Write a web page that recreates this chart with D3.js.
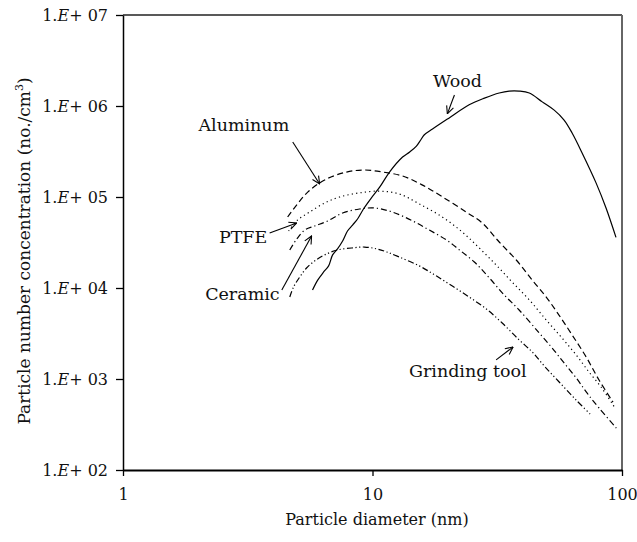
<!DOCTYPE html>
<html>
<head>
<meta charset="utf-8">
<script src="https://cdnjs.cloudflare.com/ajax/libs/d3/7.8.5/d3.min.js"></script>
<style>
  body { margin: 0; background: #fff; }
  text { font-family: "DejaVu Serif", "Liberation Serif", serif; fill: #111; }
</style>
</head>
<body>
<div id="chart"></div>
<script>
// particle diameter (nm) and number concentration (no./cm3)
let woodD = [5.75, 6.03, 6.37, 6.67, 6.92, 7.24, 7.59, 7.94, 8.32, 8.71, 9.2, 9.82, 10.7, 11.7, 13.2, 14.1, 15.0, 15.6, 16.1, 17.4, 20.3, 24.4, 28.1, 32.2, 35.3, 38.7, 42.5, 47.9, 53.5, 58.6, 63.1, 69.2, 78.7, 86.3, 94.6];
let woodC = [9.5e3, 1.22e4, 1.5e4, 1.75e4, 2.31e4, 2.69e4, 3.28e4, 4.23e4, 4.92e4, 5.73e4, 7.38e4, 9.5e4, 1.29e5, 1.88e5, 2.75e5, 3.13e5, 3.63e5, 4.23e5, 4.8e5, 5.58e5, 7.4e5, 1.03e6, 1.22e6, 1.39e6, 1.46e6, 1.46e6, 1.39e6, 1.11e6, 9.0e5, 7.0e5, 5.05e5, 3.05e5, 1.43e5, 7.57e4, 3.6e4];

let aluD = [4.57, 4.97, 5.50, 6.43, 7.87, 9.29, 11.0, 13.2, 15.8, 19.1, 23.8, 27.5, 32.2, 37.7, 43.7, 49.7, 56.0, 63.1, 71.8, 80.9, 92.0];
let aluC = [6.03e4, 8.2e4, 1.13e5, 1.54e5, 1.88e5, 1.98e5, 1.88e5, 1.70e5, 1.36e5, 1.0e5, 6.8e4, 5.2e4, 3.2e4, 2.03e4, 1.22e4, 7.96e3, 5.0e3, 3.05e3, 1.75e3, 975, 558];

let ptfeD = [4.61, 5.01, 5.60, 6.43, 7.38, 8.87, 10.7, 12.8, 15.4, 19.1, 22.9, 26.8, 31.3, 36.3, 42.5, 49.7, 57.5, 65.5, 73.8, 82.4, 93.8];
let ptfeC = [4.23e4, 5.58e4, 6.84e4, 8.59e4, 1.0e5, 1.11e5, 1.16e5, 1.08e5, 8.4e4, 6.0e4, 4.12e4, 2.75e4, 1.79e4, 1.16e4, 7.4e3, 4.45e3, 2.82e3, 1.84e3, 1.19e3, 817, 480];

let ceramicD = [4.66, 4.97, 5.35, 5.86, 6.61, 7.59, 8.87, 10.2, 12.0, 14.5, 16.9, 19.8, 22.3, 25.6, 29.4, 33.7, 38.7, 46.6, 52.5, 58.6, 65.5, 72.4, 80.9, 95.5];
let ceramicC = [2.62e4, 3.45e4, 4.33e4, 4.8e4, 5.45e4, 6.67e4, 7.38e4, 7.57e4, 6.84e4, 5.45e4, 4.33e4, 3.37e4, 2.62e4, 1.93e4, 1.29e4, 8.4e3, 5.73e3, 3.2e3, 2.19e3, 1.5e3, 1.03e3, 702, 480, 283];

let grindD = [4.66, 4.83, 5.11, 5.44, 5.86, 6.43, 7.24, 8.24, 9.29, 10.4, 11.4, 12.8, 15.4, 18.0, 20.9, 24.4, 28.6, 33.1, 38.7, 43.7, 48.8, 56.0, 65.5, 74.5];
let grindC = [7.96e3, 1.03e4, 1.32e4, 1.66e4, 1.98e4, 2.31e4, 2.62e4, 2.75e4, 2.82e4, 2.69e4, 2.49e4, 2.19e4, 1.75e4, 1.36e4, 1.05e4, 7.96e3, 5.88e3, 4.12e3, 2.69e3, 1.98e3, 1.39e3, 927, 587, 412];

let xTicks = [1, 10, 100];
let yTicks = [1e2, 1e3, 1e4, 1e5, 1e6, 1e7];
let yTickExp = ["02", "03", "04", "05", "06", "07"];

// label text, label anchor [d, c], arrow from [d, c] to [d, c]
let labelNames = ["Wood", "Aluminum", "PTFE", "Ceramic", "Grinding tool"];
let labelAt = [[21.9, 1.62e6], [3.05, 5.3e5], [3.03, 3.13e4], [3.01, 7.38e3], [24.1, 1.05e3]];
let arrowFrom = [[21.3, 1.32e6], [4.79, 4.02e5], [3.87, 4.02e4], [4.33, 9.5e3], [31.3, 1.62e3]];
let arrowTo = [[19.95, 8.2e5], [6.14, 1.39e5], [4.97, 5.18e4], [5.70, 3.73e4], [36.6, 2.25e3]];

////////////////////////////////////////////////////////////////////////
let width = 637, height = 542;
let margin = {left: 123, right: 15, top: 15, bottom: 72};

let svg = d3.select("#chart").append("svg")
  .attr("width", width).attr("height", height);

let x = d3.scaleLog().domain([1, 100]).range([margin.left, width - margin.right]);
let y = d3.scaleLog().domain([1e2, 1e7]).range([height - margin.bottom, margin.top]);

// series: each one draws its own dash style
let series = [
  {d: woodD, c: woodC, dash: null},
  {d: aluD, c: aluC, dash: "6,3.5"},
  {d: ptfeD, c: ptfeC, dash: "1.2,3.2"},
  {d: ceramicD, c: ceramicC, dash: "6,3,1.2,3"},
  {d: grindD, c: grindC, dash: "6,2.5,1.2,2.5,1.2,2.5"}
];

let line = d3.line()
  .x(function(p) { return x(p[0]); })
  .y(function(p) { return y(p[1]); })
  .curve(d3.curveCatmullRom.alpha(0.5));

svg.append("g").selectAll(".series")
  .data(series).enter()
  .append("path")
  .attr("class", "series")
  .attr("d", function(s) { return line(s.d.map(function(v, i) { return [v, s.c[i]]; })); })
  .attr("fill", "none")
  .attr("stroke", "#000")
  .attr("stroke-width", 1.2)
  .attr("stroke-dasharray", function(s) { return s.dash; });

// frame: top and right
svg.append("line")
  .attr("x1", x(1)).attr("x2", x(100))
  .attr("y1", y(1e7)).attr("y2", y(1e7))
  .attr("stroke", "#222").attr("stroke-width", 1.3);
svg.append("line")
  .attr("x1", x(100)).attr("x2", x(100))
  .attr("y1", y(1e7)).attr("y2", y(1e2))
  .attr("stroke", "#666").attr("stroke-width", 2);

// axes
let yAxis = d3.axisLeft(y).tickValues(yTicks).tickSize(7).tickSizeOuter(0).tickPadding(8).tickFormat(function() { return ""; });
let gy = svg.append("g").attr("transform", "translate(" + x(1) + ",0)").call(yAxis);
gy.select(".domain").attr("stroke-width", 1.5);
gy.selectAll(".tick line").attr("stroke-width", 1.3);
gy.selectAll(".tick text")
  .attr("font-size", 16)
  .each(function(d, i) {
    let t = d3.select(this);
    t.append("tspan").text("1.");
    t.append("tspan").attr("font-style", "italic").text("E");
    t.append("tspan").text("+ " + yTickExp[i]);
  });

let xAxis = d3.axisBottom(x).tickValues(xTicks).tickSize(6).tickSizeOuter(0).tickPadding(13).tickFormat(d3.format("d"));
let gx = svg.append("g").attr("transform", "translate(0," + y(1e2) + ")").call(xAxis);
gx.select(".domain").attr("stroke-width", 2.2);
gx.selectAll(".tick line").attr("stroke-width", 1.3);
gx.selectAll(".tick text").attr("font-size", 16);

gy.selectAll("text").attr("fill", "#111");
gx.selectAll("text").attr("fill", "#111");

// axis titles
svg.append("text")
  .attr("x", 377).attr("y", 525)
  .attr("text-anchor", "middle")
  .attr("font-size", 16)
  .text("Particle diameter (nm)");

let yt = svg.append("text")
  .attr("transform", "translate(30,251) rotate(-90)")
  .attr("text-anchor", "middle")
  .attr("font-size", 17);
yt.append("tspan").text("Particle number concentration (no./cm");
yt.append("tspan").attr("font-size", 11).attr("dy", -7).text("3");
yt.append("tspan").attr("dy", 7).text(")");

// annotations
svg.append("defs").append("marker")
  .attr("id", "open")
  .attr("viewBox", "0 0 10 10")
  .attr("refX", 9.5).attr("refY", 5)
  .attr("markerWidth", 9).attr("markerHeight", 9)
  .attr("markerUnits", "userSpaceOnUse")
  .attr("orient", "auto")
  .append("path")
  .attr("d", "M1,1 L9.5,5 L1,9")
  .attr("fill", "none")
  .attr("stroke", "#000")
  .attr("stroke-width", 1.2);

svg.append("g").selectAll(".arrow")
  .data(labelNames).enter()
  .append("line")
  .attr("class", "arrow")
  .attr("x1", function(d, i) { return x(arrowFrom[i][0]); })
  .attr("y1", function(d, i) { return y(arrowFrom[i][1]); })
  .attr("x2", function(d, i) { return x(arrowTo[i][0]); })
  .attr("y2", function(d, i) { return y(arrowTo[i][1]); })
  .attr("stroke", "#000")
  .attr("stroke-width", 1.1)
  .attr("marker-end", "url(#open)");

svg.append("g").selectAll(".label")
  .data(labelNames).enter()
  .append("text")
  .attr("class", "label")
  .attr("x", function(d, i) { return x(labelAt[i][0]); })
  .attr("y", function(d, i) { return y(labelAt[i][1]); })
  .attr("text-anchor", "middle")
  .attr("font-size", 17.5)
  .text(function(d) { return d; });
</script>
</body>
</html>
